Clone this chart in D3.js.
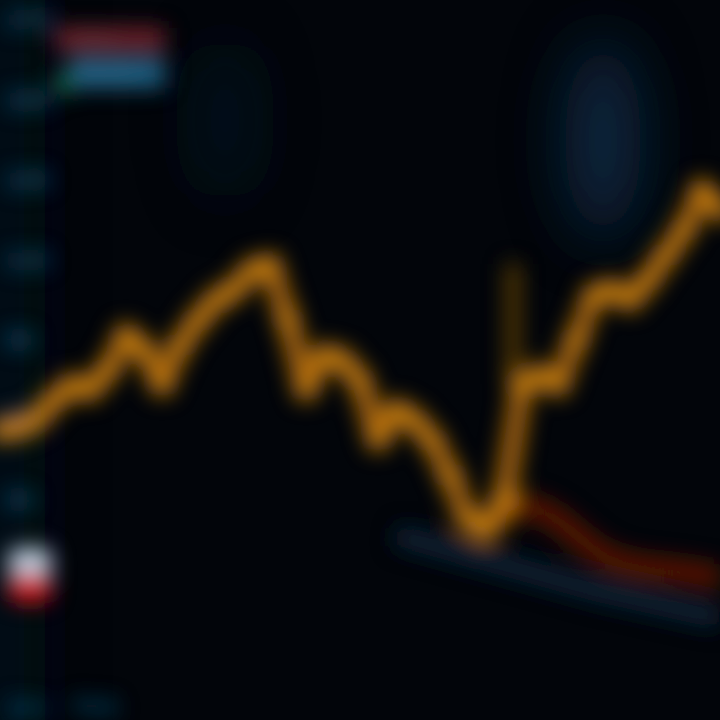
<!DOCTYPE html>
<html><head><meta charset="utf-8">
<script src="https://cdn.jsdelivr.net/npm/d3@7"></script>
<style>html,body{margin:0;padding:0;background:#02050a;}svg{display:block;}</style>
</head><body>
<script>
// ---- data ----
const steps = d3.range(0, 41);               // time steps
const price = [72.5,73,75,80,83.75,82.5,87.5,96.25,92.5,83.75,93.75,100,105,107.5,112.5,113.75,100,82.5,91.25,90,85,70,77.5,75,70,61.25,50,47.5,55,83.75,86.25,83.75,95,106.25,107.5,105,110,116.25,122.5,132.5,127.5];
const redStart = 27;
const redLine = [48.75,51.25,53.75,52.5,50,46.25,42.5,40,38.75,38,37.5,37,36.25,35.5];
const blueStart = 22;
const blueLine = [46.25,45,43.75,42.5,41.25,40,38.75,37.5,36.25,35,33.75,32.5,31.5,30.5,29.5,28.5,27.5,26.5,25.5];
const tickValues = [175,155,135,115,95,75,55];
const xLabels = ["Jan","Feb"];
const legendNames = ["Price","Volume"];

const W = 720, H = 720;
const svg = d3.select("body").append("svg").attr("width", W).attr("height", H);
const defs = svg.append("defs");
function blurFilter(id, sd) {
  defs.append("filter").attr("id", id).attr("filterUnits","userSpaceOnUse")
    .attr("x", -100).attr("y", -100).attr("width", W + 200).attr("height", H + 200)
    .append("feGaussianBlur").attr("stdDeviation", sd);
}
blurFilter("blur", 11);
blurFilter("blurBig", 30);

svg.append("rect").attr("width",W).attr("height",H).attr("fill","#02050a");

const x = d3.scaleLinear().domain([0, 40]).range([0, W]);
const y = d3.scaleLinear().domain([0, 180]).range([H, 0]);

// background glows
const glow = svg.append("g").attr("filter","url(#blurBig)");
glow.append("ellipse").attr("cx", x(33.5)).attr("cy", y(145)).attr("rx", 38).attr("ry", 100).attr("fill","#0c3152").attr("opacity",0.75);
glow.append("ellipse").attr("cx", x(12.5)).attr("cy", y(150)).attr("rx", 30).attr("ry", 80).attr("fill","#0a1f33").attr("opacity",0.45);
glow.append("rect").attr("x", -40).attr("y", -40).attr("width", 85).attr("height", H + 80).attr("fill","#061526").attr("opacity",0.5);

const g = svg.append("g").attr("filter","url(#blur)");

// axis labels (left side, drawn with the library's axis)
const ax = g.append("g").attr("transform","translate(2,0)")
  .call(d3.axisRight(y).tickValues(tickValues).tickSize(0).tickPadding(2));
ax.select(".domain").remove();
ax.selectAll("text").attr("fill","#1e6a96").attr("font-family","DejaVu Sans").attr("font-size",22).attr("font-weight","bold");

// x labels
const xl = d3.scaleBand().domain(xLabels).range([0, 130]);
g.selectAll(".xl").data(xLabels).enter().append("text")
  .attr("x", d => xl(d) + 8).attr("y", 714).attr("fill","#15557c")
  .attr("font-family","DejaVu Sans").attr("font-size",22).attr("font-weight","bold").text(d=>d);

// legend
const lg = g.append("g").attr("transform","translate(55,22)");
lg.append("rect").attr("x",0).attr("y",6).attr("width",110).attr("height",22).attr("fill","#72242a");
lg.append("rect").attr("x",14).attr("y",36).attr("width",96).attr("height",30).attr("fill","#1f5e82");
lg.append("rect").attr("x",0).attr("y",52).attr("width",16).attr("height",20).attr("fill","#18703e");
lg.selectAll("text").data(legendNames).enter().append("text")
  .attr("x",22).attr("y",(d,i)=>23+i*34).attr("fill","#9fc6e0").attr("font-size",15).attr("font-family","DejaVu Sans").attr("opacity",0.25).text(d=>d);

// price marker bottom-left
g.append("rect").attr("x",8).attr("y",y(43)).attr("width",44).attr("height",28).attr("rx",12).attr("fill","#c0cfe0");
g.append("rect").attr("x",8).attr("y",y(36.5)).attr("width",44).attr("height",28).attr("rx",12).attr("fill","#d0141c");

// vertical wick
g.append("line").attr("x1",x(28.5)).attr("x2",x(28.5)).attr("y1",y(114)).attr("y2",y(84)).attr("stroke","#6e4a0c").attr("stroke-width",12);

const line = d3.line().x(d=>x(d[0])).y(d=>y(d[1])).curve(d3.curveLinear);

g.append("path").datum(blueLine.map((v,i)=>[blueStart+i, v]))
  .attr("d", line).attr("fill","none").attr("stroke","#0a2034").attr("stroke-width",22).attr("stroke-linejoin","round");
g.append("path").datum(redLine.map((v,i)=>[redStart+i, v]))
  .attr("d", line).attr("fill","none").attr("stroke","#581605").attr("stroke-width",24).attr("stroke-linejoin","round");
const pdata = price.map((v,i)=>[steps[i], v]);
g.append("path").datum(pdata)
  .attr("d", line).attr("fill","none").attr("stroke","#b26c0c").attr("stroke-width",20).attr("stroke-linejoin","round").attr("stroke-linecap","round");
g.selectAll(".pt").data(pdata).enter().append("circle")
  .attr("cx", d=>x(d[0])).attr("cy", d=>y(d[1])).attr("r", 11).attr("fill","#e08e14").attr("opacity",0.8);
</script>
</body></html>
